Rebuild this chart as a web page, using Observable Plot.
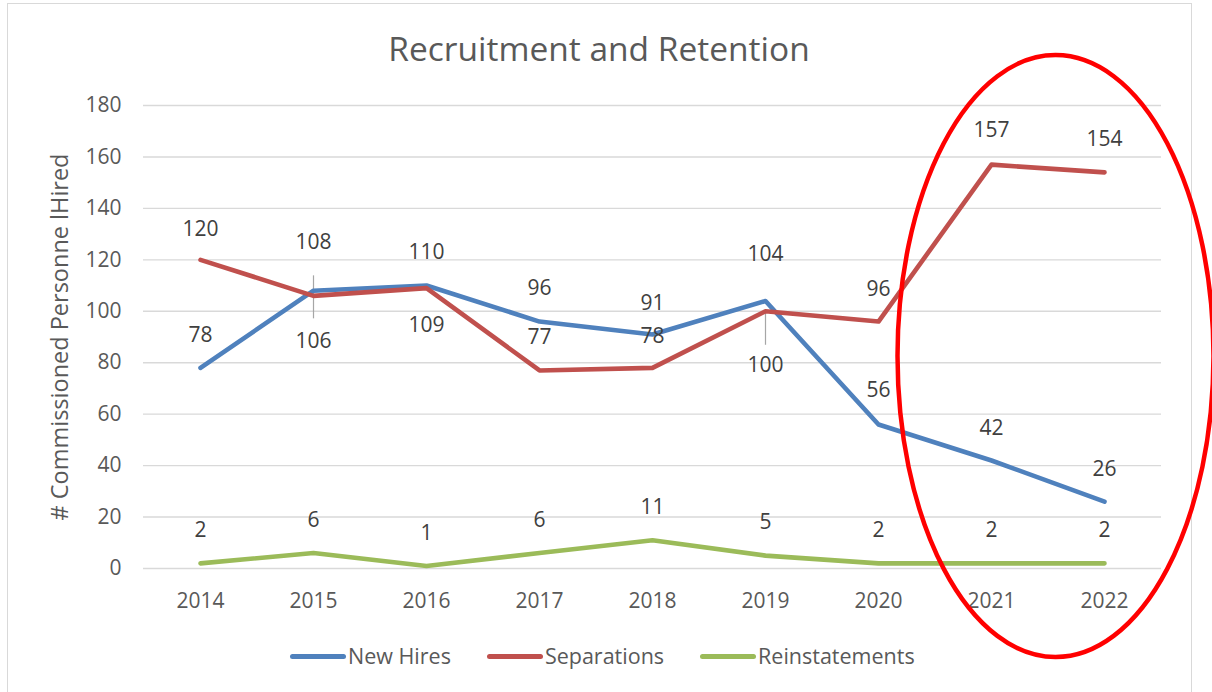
<!DOCTYPE html>
<html><head><meta charset="utf-8">
<script src="https://cdn.jsdelivr.net/npm/d3@7"></script>
<script src="https://cdn.jsdelivr.net/npm/@observablehq/plot@0.6"></script>
<style>
html,body{margin:0;padding:0;background:#fff;}
#wrap{position:relative;width:1212px;height:692px;overflow:hidden;font-family:"Open Sans",sans-serif;}
#frame{position:absolute;left:7px;top:3px;width:1185px;height:720px;border:1.5px solid #d9d9d9;box-sizing:border-box;pointer-events:none;}
#title{position:relative;height:80px;font-size:33.5px;color:#595959;line-height:1;}
#title span{position:absolute;left:0;width:1198px;text-align:center;top:32px;}
#chart{position:relative;height:560px;}
#legend{position:relative;height:32px;display:flex;align-items:center;padding-left:290px;font-size:21.5px;color:#595959;line-height:1;}
.item{display:flex;align-items:center;margin-right:36px;}
.sw{width:56px;height:5px;border-radius:3px;margin-right:2px;}
#overlay{position:absolute;left:0;top:0;pointer-events:none;}
</style>
</head><body>
<div id="wrap">
  <div id="frame"></div>
  <div id="title"><span></span></div>
  <div id="chart"></div>
  <div id="legend"></div>
</div>
<script>
// ---- data ----
const titleText = "Recruitment and Retention";
const yLabel = "# Commissioned Personne lHired";
const years = ["2014","2015","2016","2017","2018","2019","2020","2021","2022"];
const newHires = [78,108,110,96,91,104,56,42,26];
const separations = [120,106,109,77,78,100,96,157,154];
const reinstatements = [2,6,1,6,11,5,2,2,2];
const seriesNames = ["New Hires","Separations","Reinstatements"];
const yTicks = [0,20,40,60,80,100,120,140,160,180];

// ---- styling / placement ----
const seriesColors = ["#4f81bd","#c0504d","#9bbb59"];
const labelDy = {
  "New Hires":      [-33,-48,-33,-33,-31,-47,-34,-32,-32],
  "Separations":    [-31, 45, 37,-33,-32, 54,-32,-34,-33],
  "Reinstatements": [-33,-33,-33,-33,-33,-33,-33,-33,-33]
};
const leaders = [
  {year:"2015", series:"Separations", up:20, down:23},
  {year:"2019", series:"Separations", up:0, down:34}
];
const highlight = {from:"2021", to:"2022", value:82.4, dxPx:8, rx:158, ry:301};

const seriesValues = [newHires, separations, reinstatements];
const rows = [];
seriesNames.forEach((s, si) => {
  years.forEach((yr, i) => rows.push({year: yr, series: s, value: seriesValues[si][i], dy: labelDy[s][i]}));
});

document.querySelector("#title span").textContent = titleText;

const W = 1212, H = 560;
const marks = [
  Plot.gridY(yTicks, {stroke:"#d9d9d9", strokeOpacity:1, strokeWidth:1.4}),
  Plot.axisY(yTicks, {tickSize:0, tickPadding:22, fontSize:21, fill:"#595959", label:null}),
  Plot.axisX({tickSize:0, tickPadding:25, fontSize:21, fill:"#595959", label:null}),
  Plot.text([yLabel], {frameAnchor:"left", textAnchor:"middle", rotate:-90, dx:-83, fontSize:23.5, fill:"#595959"})
];
leaders.forEach(l => {
  const r = rows.filter(d => d.year === l.year && d.series === l.series);
  marks.push(Plot.ruleX(r, {x:"year", y1:"value", y2:"value", insetTop:-l.up, insetBottom:-l.down, stroke:"#a6a6a6", strokeWidth:1.2}));
});
marks.push(Plot.line(rows, {x:"year", y:"value", z:"series", stroke:"series", strokeWidth:4.6, strokeLinecap:"round", strokeLinejoin:"round"}));
rows.forEach(d => {
  marks.push(Plot.text([d], {x:"year", y:"value", text: d => String(d.value), dy: d.dy, fontSize:21, fill:"#404040"}));
});

const plot = Plot.plot({
  width: W, height: H,
  marginTop: 25, marginBottom: 72, marginLeft: 143, marginRight: 51,
  style: {fontFamily: "'Open Sans', sans-serif", fontSize: "21px", color: "#595959", background: "transparent"},
  x: {type: "point", domain: years, padding: 0.5, axis: null},
  y: {domain: [0, 180], axis: null},
  color: {domain: seriesNames, range: seriesColors},
  marks
});
document.getElementById("chart").appendChild(plot);

// legend
const legend = d3.select("#legend");
seriesNames.forEach((s, i) => {
  const it = legend.append("div").attr("class", "item");
  it.append("div").attr("class", "sw").style("background", seriesColors[i]);
  it.append("span").text(s);
});

// highlight ellipse overlay
const xs = plot.scale("x"), ys = plot.scale("y");
const cx = (xs.apply(highlight.from) + xs.apply(highlight.to)) / 2 + highlight.dxPx;
const cy = 80 + ys.apply(highlight.value);
const ov = d3.select("#wrap").append("svg").attr("id", "overlay").attr("width", 1212).attr("height", 692);
ov.append("ellipse").attr("cx", cx).attr("cy", cy).attr("rx", highlight.rx).attr("ry", highlight.ry)
  .attr("fill", "none").attr("stroke", "#ff0000").attr("stroke-width", 4.5);
</script>
</body></html>
